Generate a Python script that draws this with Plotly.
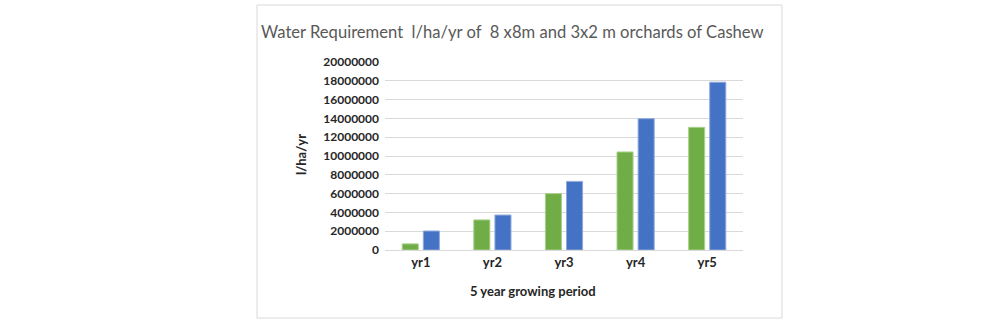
import plotly.graph_objects as go

categories = ["yr1", "yr2", "yr3", "yr4", "yr5"]
orchard_8x8 = [650000, 3200000, 6000000, 10430000, 13050000]
orchard_3x2 = [2020000, 3720000, 7300000, 13970000, 17850000]
y_ticks = [0, 2000000, 4000000, 6000000, 8000000, 10000000, 12000000,
           14000000, 16000000, 18000000, 20000000]

W, H = 1000, 328
L, R, T, B = 385, 743, 62, 250

fig = go.Figure()
fig.add_trace(go.Bar(x=categories, y=orchard_8x8, name="8x8 m",
                     marker=dict(color="#70AD47", line=dict(color="#A9D18E", width=1))))
fig.add_trace(go.Bar(x=categories, y=orchard_3x2, name="3x2 m",
                     marker=dict(color="#4472C4", line=dict(color="#8FAADC", width=1))))

def px(x):
    return (x - L) / (R - L)

def py(y):
    return (B - y) / (B - T)

fig.add_shape(type="rect", xref="paper", yref="paper",
              x0=px(257), x1=px(782), y0=py(318), y1=py(5),
              line=dict(color="#D9D9D9", width=1), layer="below")

fig.add_annotation(text="Water Requirement  l/ha/yr of  8 x8m and 3x2 m orchards of Cashew",
                   xref="paper", yref="paper", x=px(512), y=py(32),
                   showarrow=False, xanchor="center", yanchor="middle",
                   font=dict(family="Lato", size=16.6, color="#595959"))
fig.add_annotation(text="<b>5 year growing period</b>",
                   xref="paper", yref="paper", x=px(533), y=py(291),
                   showarrow=False, xanchor="center", yanchor="middle",
                   font=dict(family="Lato", size=13, color="#262626"))
fig.add_annotation(text="<b>l/ha/yr</b>", textangle=-90,
                   xref="paper", yref="paper", x=px(301), y=py(155),
                   showarrow=False, xanchor="center", yanchor="middle",
                   font=dict(family="Lato", size=13, color="#262626"))

fig.update_layout(
    width=W, height=H,
    margin=dict(l=L, r=W - R, t=T, b=H - B, pad=0),
    paper_bgcolor="white", plot_bgcolor="white",
    showlegend=False,
    barmode="group", bargap=0.41, bargroupgap=0.24,
    font=dict(family="Lato", color="#262626"),
)
fig.update_xaxes(showgrid=False, showline=True, linecolor="#D9D9D9", linewidth=1,
                 ticks="", tickfont=dict(family="Lato", size=13, color="#262626", weight="bold"))
fig.update_yaxes(range=[0, 20000000], tickvals=y_ticks,
                 ticktext=[str(v) for v in y_ticks],
                 showgrid=True, gridcolor="#D9D9D9", gridwidth=1, zeroline=False,
                 showline=False, ticks="", ticklabelstandoff=5,
                 tickfont=dict(family="Lato", size=12, color="#262626", weight="bold"))

fig.write_html("out.html")
